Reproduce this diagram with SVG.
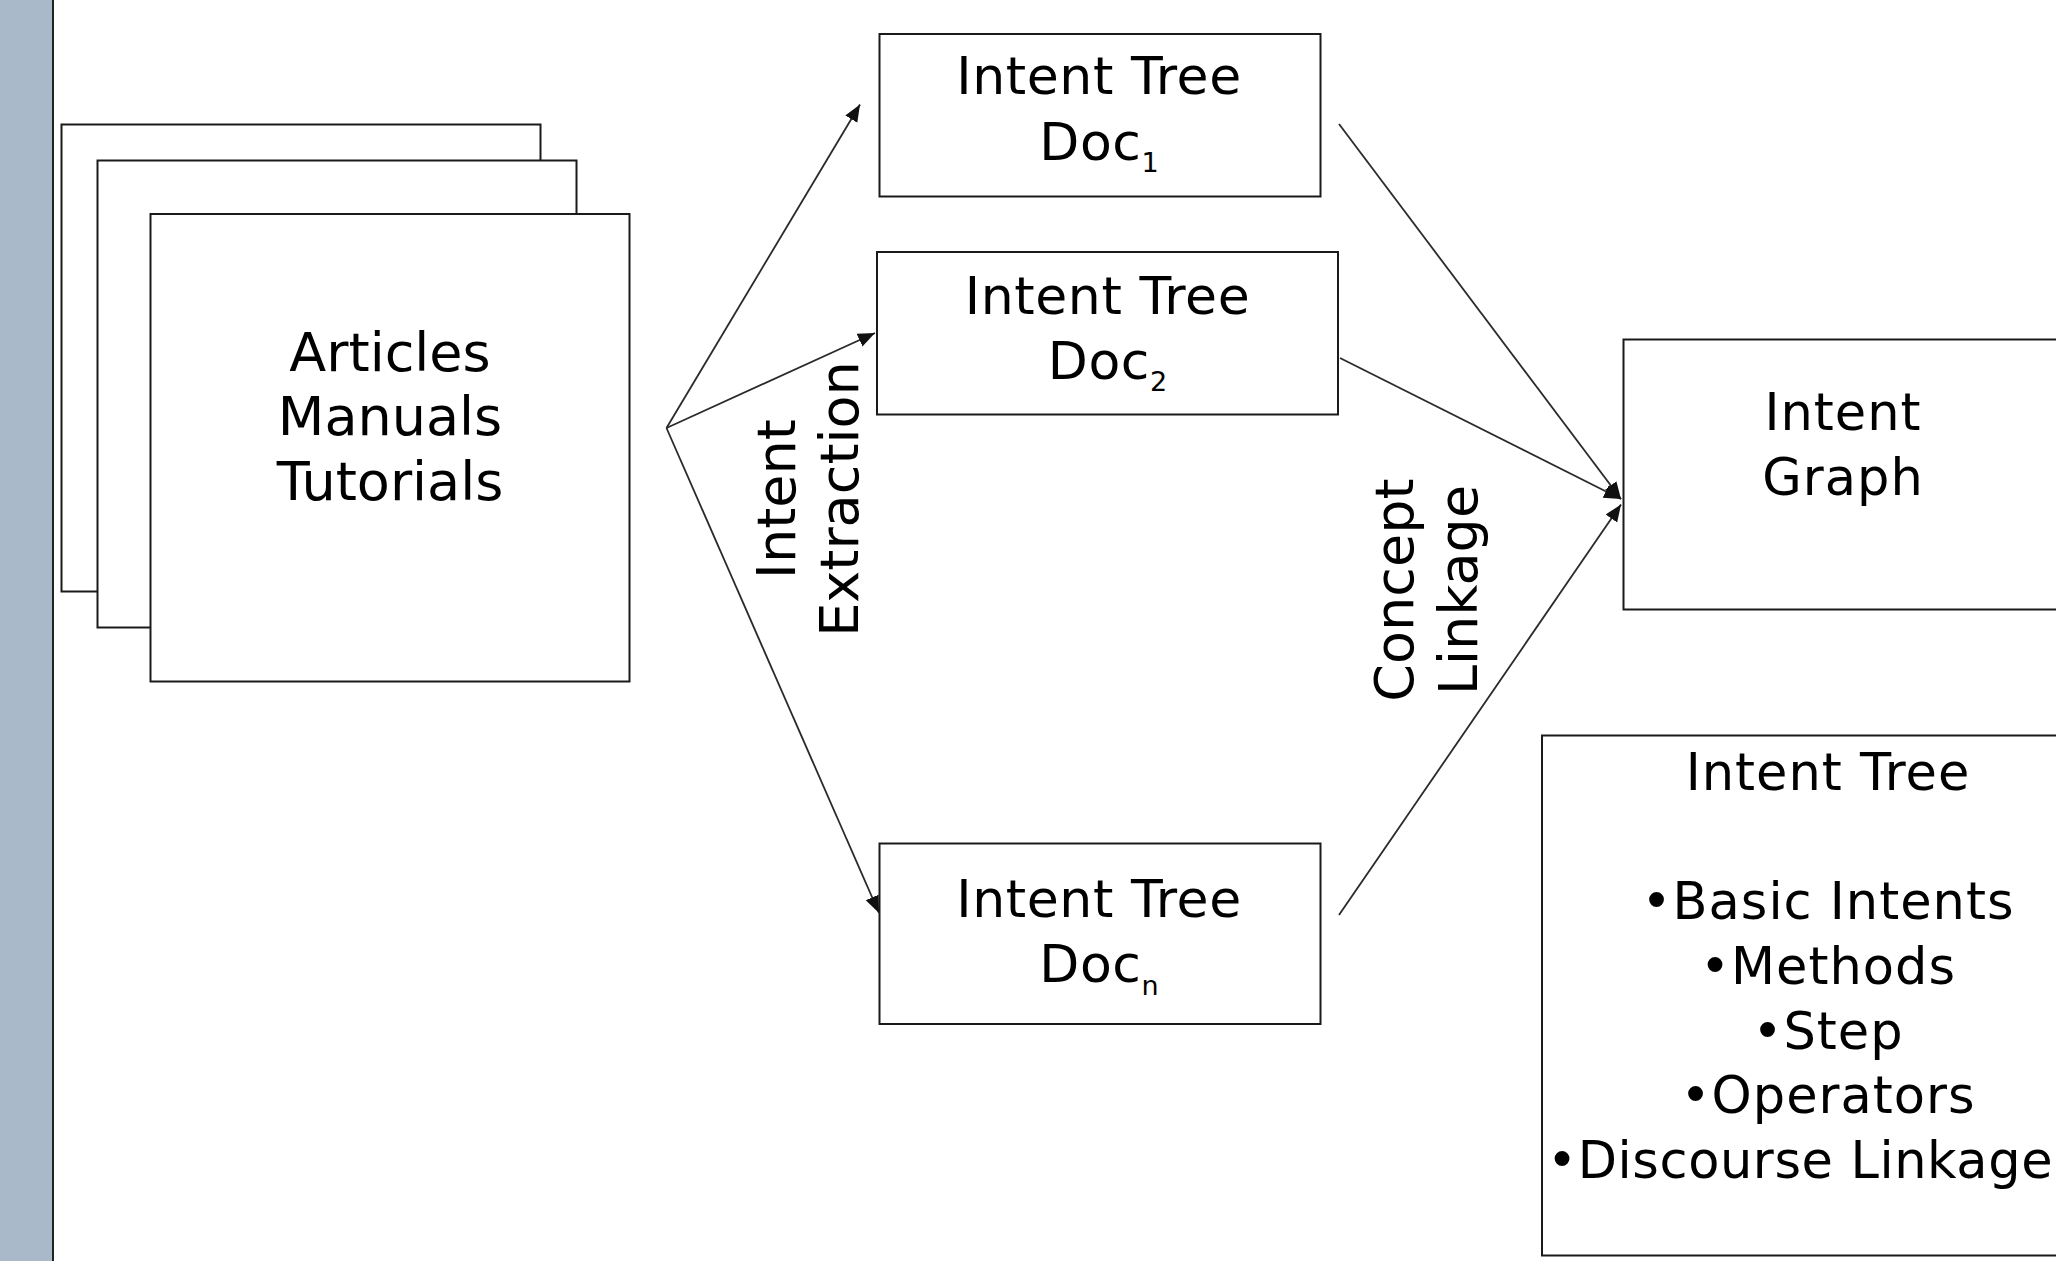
<svg xmlns="http://www.w3.org/2000/svg" width="2056" height="1261" viewBox="0 0 2056 1261">
  <style>
    .box { fill: #ffffff; stroke: #1a1a1a; stroke-width: 2; }
    .conn { stroke: #2a2a2a; stroke-width: 1.8; fill: none; marker-end: url(#arrow); }
    .t { font-family: "DejaVu Sans", sans-serif; fill: #000; text-anchor: middle; }
    .src { font-size: 54px; }
    .doc { font-size: 52px; letter-spacing: 0.6px; }
    .sub { font-size: 27px; letter-spacing: 0; }
    .lbl { font-size: 54px; }
    .res { font-size: 51px; letter-spacing: 1px; }
  </style>
  <defs>
    <marker id="arrow" markerUnits="userSpaceOnUse" markerWidth="20" markerHeight="16" refX="17" refY="7" orient="auto">
      <path d="M0,0 L17,7 L0,14 Z" fill="#111"/>
    </marker>
  </defs>
  <rect x="0" y="0" width="2056" height="1261" fill="#ffffff"/>
  <g id="sidebar">
    <rect x="0" y="0" width="53" height="1261" fill="#a9b9c9"/>
    <line x1="53" y1="0" x2="53" y2="1261" stroke="#222" stroke-width="2"/>
  </g>
  <g id="documents">
    <rect class="box" x="61.5" y="124.5" width="479" height="467"/>
    <rect class="box" x="97.5" y="160.5" width="479" height="467"/>
    <rect class="box" x="150.5" y="214" width="479" height="467.5"/>
    <text class="t src" x="390" y="370.5">Articles</text>
    <text class="t src" x="390" y="435">Manuals</text>
    <text class="t src" x="390" y="500">Tutorials</text>
  </g>
  <g id="doc1">
    <rect class="box" x="879.5" y="34" width="441" height="162.5"/>
    <text class="t doc" x="1099" y="94">Intent Tree</text>
    <text class="t doc" x="1099" y="159.5">Doc<tspan class="sub" dy="12.5">1</tspan></text>
  </g>
  <g id="doc2">
    <rect class="box" x="877" y="252" width="461" height="162.5"/>
    <text class="t doc" x="1107.5" y="314">Intent Tree</text>
    <text class="t doc" x="1107.5" y="378.5">Doc<tspan class="sub" dy="12.5">2</tspan></text>
  </g>
  <g id="docn">
    <rect class="box" x="879.5" y="843.5" width="441" height="180.5"/>
    <text class="t doc" x="1099" y="917">Intent Tree</text>
    <text class="t doc" x="1099" y="982">Doc<tspan class="sub" dy="13">n</tspan></text>
  </g>
  <g id="intent-graph">
    <rect class="box" x="1623.5" y="339.5" width="460" height="270"/>
    <text class="t res" x="1843" y="430">Intent</text>
    <text class="t res" x="1843" y="495">Graph</text>
  </g>
  <g id="intent-tree-legend">
    <rect class="box" x="1542" y="735.5" width="560" height="520"/>
    <text class="t res" x="1828" y="790">Intent Tree</text>
    <text class="t res" x="1828" y="919">•Basic Intents</text>
    <text class="t res" x="1828" y="983.5">•Methods</text>
    <text class="t res" x="1828" y="1048.5">•Step</text>
    <text class="t res" x="1828" y="1113">•Operators</text>
    <text class="t res" x="1547" y="1177.5" style="text-anchor:start; letter-spacing:0.6px">•Discourse Linkage</text>
  </g>
  <g id="labels">
    <text class="t lbl" transform="translate(795,499) rotate(-90)">Intent</text>
    <text class="t lbl" transform="translate(858,499) rotate(-90)">Extraction</text>
    <text class="t lbl" transform="translate(1413,590) rotate(-90)">Concept</text>
    <text class="t lbl" transform="translate(1477,590) rotate(-90)">Linkage</text>
  </g>
  <g id="connectors">
    <line class="conn" x1="666.5" y1="428" x2="860" y2="104.5"/>
    <line class="conn" x1="666.5" y1="428" x2="875" y2="333"/>
    <line class="conn" x1="666.5" y1="428" x2="879" y2="913"/>
    <line class="conn" x1="1339" y1="124" x2="1621" y2="499"/>
    <line class="conn" x1="1340" y1="358" x2="1621" y2="499"/>
    <line class="conn" x1="1339" y1="915" x2="1621" y2="504.5"/>
  </g>
</svg>
